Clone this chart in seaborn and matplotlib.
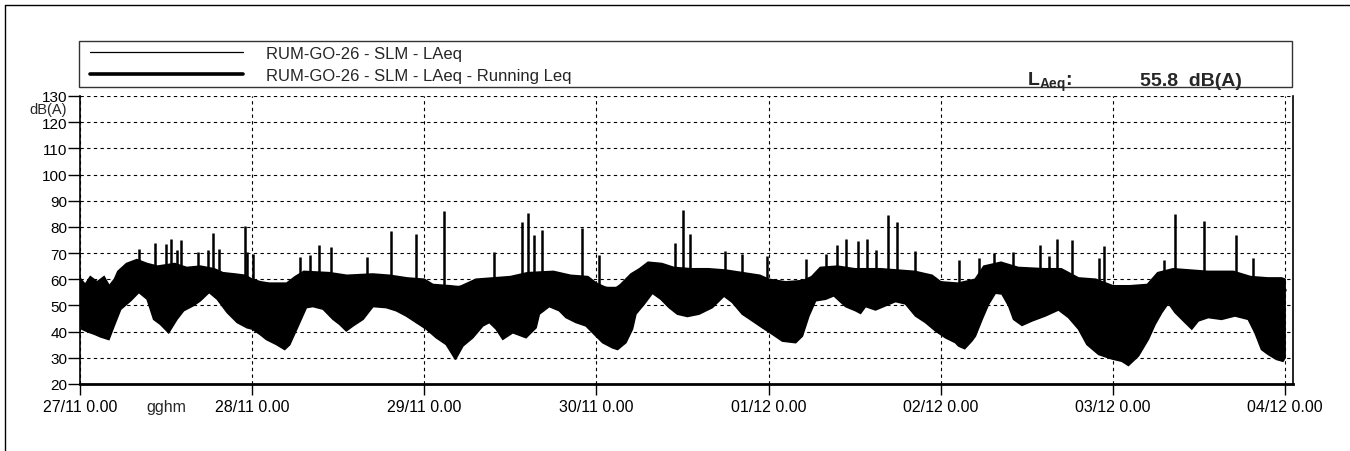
import numpy as np
import matplotlib
matplotlib.use("Agg")
import matplotlib.pyplot as plt
from matplotlib.lines import Line2D
from matplotlib.patches import Rectangle
import seaborn as sns

# ---------------------------------------------------------------- data
# Time axis is in days from 27/11 0.00.
day_ticks = [0, 1, 2, 3, 4, 5, 6, 7]
day_tick_labels = ["27/11 0.00", "28/11 0.00", "29/11 0.00", "30/11 0.00",
                   "01/12 0.00", "02/12 0.00", "03/12 0.00", "04/12 0.00"]
db_ticks = list(range(20, 131, 10))

# LAeq band: upper edge of the dense short-interval levels (day, dB)
laeq_upper_day = [0.0, 0.03, 0.06, 0.10, 0.14, 0.17, 0.20, 0.22, 0.27, 0.33,
                  0.39, 0.45, 0.55, 0.62, 0.70, 0.78, 0.83, 0.90, 0.96, 1.00,
                  1.05, 1.10, 1.20, 1.25, 1.30, 1.45, 1.55, 1.70, 1.80, 1.90,
                  2.00, 2.05, 2.15, 2.20, 2.30, 2.40, 2.50, 2.60, 2.75, 2.85,
                  2.95, 3.00, 3.05, 3.10, 3.14, 3.20, 3.25, 3.30, 3.38, 3.45,
                  3.55, 3.65, 3.75, 3.85, 3.95, 4.00, 4.10, 4.20, 4.25, 4.30,
                  4.40, 4.50, 4.65, 4.75, 4.85, 4.95, 5.00, 5.10, 5.20, 5.25,
                  5.35, 5.45, 5.60, 5.70, 5.80, 5.90, 6.00, 6.10, 6.20, 6.26,
                  6.35, 6.45, 6.55, 6.70, 6.80, 6.90, 6.98, 7.00]
laeq_upper_db = [60.5, 58.0, 61.0, 59.0, 61.0, 57.5, 60.0, 63.0, 66.0, 67.5,
                 66.0, 65.0, 66.0, 64.5, 65.0, 64.0, 62.5, 62.0, 61.5, 60.0,
                 59.0, 58.5, 58.5, 61.0, 63.0, 62.5, 61.5, 62.0, 61.5, 60.5,
                 60.0, 58.0, 57.5, 57.0, 60.0, 60.5, 61.0, 62.5, 63.0, 61.5,
                 61.0, 58.5, 57.0, 56.0, 58.0, 62.0, 64.0, 66.5, 66.0, 64.5,
                 64.0, 64.0, 63.5, 62.5, 61.5, 60.0, 59.0, 59.5, 61.0, 64.5,
                 65.0, 64.0, 64.0, 63.5, 63.0, 61.5, 59.0, 58.5, 60.0, 65.0,
                 66.5, 64.5, 64.0, 64.0, 60.5, 60.0, 57.5, 57.5, 58.0, 62.5,
                 64.0, 63.5, 63.0, 63.0, 61.0, 60.5, 60.5, 60.0]

# LAeq band: lower edge (day, dB)
laeq_lower_day = [0.0, 0.010, 0.043, 0.085, 0.12, 0.168, 0.197, 0.236, 0.294,
                  0.342, 0.39, 0.428, 0.467, 0.515, 0.563, 0.602, 0.66, 0.699,
                  0.75, 0.797, 0.855, 0.913, 0.97, 1.00, 1.045, 1.083, 1.141,
                  1.189, 1.218, 1.266, 1.315, 1.353, 1.412, 1.47, 1.508, 1.547,
                  1.586, 1.644, 1.702, 1.779, 1.837, 1.895, 1.953, 2.011, 2.069,
                  2.127, 2.181, 2.224, 2.282, 2.34, 2.378, 2.417, 2.456, 2.514,
                  2.591, 2.649, 2.668, 2.726, 2.784, 2.823, 2.881, 2.939, 2.987,
                  3.036, 3.094, 3.123, 3.171, 3.209, 3.229, 3.277, 3.325, 3.374,
                  3.422, 3.47, 3.528, 3.596, 3.673, 3.741, 3.789, 3.847, 3.906,
                  3.964, 4.022, 4.08, 4.157, 4.196, 4.234, 4.273, 4.331, 4.379,
                  4.447, 4.505, 4.534, 4.563, 4.621, 4.679, 4.737, 4.795, 4.853,
                  4.911, 4.969, 5.027, 5.085, 5.104, 5.139, 5.181, 5.201, 5.24,
                  5.278, 5.317, 5.355, 5.394, 5.423, 5.472, 5.53, 5.607, 5.684,
                  5.742, 5.8, 5.849, 5.917, 5.994, 6.052, 6.09, 6.148, 6.206,
                  6.245, 6.284, 6.322, 6.361, 6.419, 6.458, 6.496, 6.554, 6.631,
                  6.709, 6.786, 6.825, 6.863, 6.902, 6.95, 6.988, 7.0]
laeq_lower_db = [43.5, 41.0, 40.0, 39.0, 38.0, 37.0, 42.0, 48.5, 51.8,
                 55.0, 52.4, 44.7, 42.8, 39.6, 44.7, 48.0, 50.0, 51.8,
                 55.0, 52.4, 47.3, 43.5, 41.5, 41.0, 39.0, 37.0, 35.1,
                 33.2, 35.0, 42.0, 49.2, 49.6, 48.6, 44.7, 42.8, 40.3,
                 42.2, 44.7, 49.6, 49.2, 48.0, 46.0, 43.5, 41.0, 37.7,
                 35.1, 29.4, 34.5, 37.7, 42.2, 43.5, 41.0, 37.1, 39.6,
                 37.7, 41.5, 46.7, 49.6, 48.0, 45.4, 43.5, 42.2, 39.0,
                 35.8, 33.8, 33.2, 35.8, 41.0, 46.7, 50.5, 54.7, 52.4,
                 49.2, 46.7, 45.8, 46.7, 49.2, 53.6, 51.2, 46.7, 44.1,
                 41.5, 39.0, 36.4, 35.8, 38.3, 46.0, 51.8, 52.4, 53.7,
                 49.6, 48.0, 47.0, 49.6, 48.3, 49.9, 51.5, 50.6, 46.0,
                 43.5, 40.3, 37.7, 35.8, 34.5, 33.5, 36.5, 38.3, 44.7,
                 50.5, 54.7, 54.4, 49.9, 44.7, 42.4, 44.1, 46.0, 48.3,
                 45.4, 41.0, 35.1, 31.3, 29.6, 28.7, 27.1, 30.7, 37.1,
                 42.8, 47.3, 50.9, 47.3, 43.5, 41.0, 44.1, 45.4, 44.7,
                 46.0, 44.7, 39.6, 33.2, 31.3, 29.4, 28.7, 30.0]

# Short events rising above the band (day, peak dB)
event_day = [0.342, 0.433, 0.501, 0.526, 0.565, 0.584, 0.687, 0.743, 0.772,
             0.807, 0.956, 0.971, 1.004, 1.280, 1.334, 1.388, 1.460, 1.669,
             1.808, 1.949, 2.112, 2.407, 2.568, 2.603, 2.639, 2.681, 2.916,
             3.012, 3.455, 3.503, 3.542, 3.747, 3.847, 3.993, 4.219, 4.335,
             4.395, 4.447, 4.521, 4.569, 4.625, 4.695, 4.743, 4.849, 5.104,
             5.220, 5.307, 5.417, 5.574, 5.630, 5.678, 5.762, 5.917, 5.951,
             6.297, 6.361, 6.531, 6.714, 6.815]
event_db = [71.4, 73.8, 73.6, 75.3, 71.0, 74.9, 70.4, 71.0, 77.8,
            71.7, 80.4, 70.4, 69.7, 68.5, 69.1, 73.2, 72.3, 68.5,
            78.3, 77.4, 85.9, 70.4, 81.7, 85.5, 76.8, 79.0, 79.4,
            69.4, 74.0, 86.6, 77.4, 70.7, 69.7, 68.8, 67.8, 69.7,
            73.2, 75.5, 74.5, 75.5, 71.0, 84.5, 82.0, 70.7, 67.2,
            68.0, 70.0, 70.6, 72.9, 69.0, 75.5, 74.9, 68.0, 72.7,
            67.4, 85.0, 82.4, 77.0, 68.0]

# Running Leq (day, dB)
running_day = [0.0, 0.05, 0.1, 0.2, 0.3, 0.4, 0.5, 0.7, 1.0, 1.5, 2.0,
               3.0, 4.0, 5.0, 6.0, 7.0]
running_db = [50.0, 50.5, 51.0, 53.0, 55.0, 56.5, 57.5, 58.0, 57.5, 57.0,
              57.0, 56.5, 56.5, 56.3, 56.0, 55.8]

overall_laeq = 55.8
series_names = ["RUM-GO-26 - SLM - LAeq", "RUM-GO-26 - SLM - LAeq - Running Leq"]

# ---------------------------------------------------------------- style
sns.set_style("white")
plt.rcParams["font.family"] = ["Liberation Sans", "DejaVu Sans"]
plt.rcParams["mathtext.fontset"] = "custom"
plt.rcParams["mathtext.rm"] = "Liberation Sans"
plt.rcParams["mathtext.bf"] = "Liberation Sans:bold"

W, H = 1350, 452
fig = plt.figure(figsize=(W / 100, H / 100), dpi=100)
fig.patch.set_facecolor("white")


def fx(px):
    return px / W


def fy(py):
    return 1 - py / H


ax = fig.add_axes([fx(80), fy(385), fx(1293) - fx(80), fy(97) - fy(385)])

# dense LAeq band
poly_x = np.concatenate([laeq_upper_day, laeq_lower_day[::-1]])
poly_y = np.concatenate([laeq_upper_db, laeq_lower_db[::-1]])
ax.fill(poly_x, poly_y, facecolor="black", edgecolor="black", linewidth=1.2,
        joinstyle="miter", zorder=3)

# event peaks
ax.vlines(event_day, 55, event_db, colors="black", linewidth=1.8, zorder=3)

# running Leq
sns.lineplot(x=running_day, y=running_db, color="black", linewidth=2.4,
             ax=ax, zorder=4)

ax.set_xlim(0, 7.046)
ax.set_ylim(20, 130)
ax.set_xticks(day_ticks)
ax.set_xticklabels(day_tick_labels)
ax.set_yticks(db_ticks)
ax.set_yticklabels([str(v) for v in db_ticks])
ax.set_xlabel("")
ax.set_ylabel("")

ax.grid(True, color="black", linestyle=(0, (3, 3)), linewidth=0.8)
ax.set_axisbelow(True)
for side in ("left", "right"):
    ax.spines[side].set_color("black")
    ax.spines[side].set_linewidth(1.2)
ax.spines["bottom"].set_color("black")
ax.spines["bottom"].set_linewidth(2.0)
ax.spines["top"].set_visible(False)

ax.tick_params(axis="y", direction="out", length=9, width=1.0, pad=0,
               labelsize=11, colors="black", left=True)
ax.tick_params(axis="x", direction="out", length=8, width=1.0, pad=3,
               labelsize=11.5, colors="black", bottom=True)

ax.annotate("gghm", xy=(0.5, 0), xycoords=("data", "axes fraction"),
            xytext=(0, -11), textcoords="offset points", ha="center",
            va="top", fontsize=11.5)
fig.text(fx(67), fy(110.5), "dB(A)", ha="right", va="center", fontsize=10.5)

# legend panel
fig.patches.append(Rectangle((fx(79), fy(88)), fx(1292) - fx(79),
                             fy(42) - fy(88), transform=fig.transFigure,
                             fill=False, edgecolor="#333333", linewidth=1.0))
handles = [Line2D([], [], color="black", linewidth=0.9),
           Line2D([], [], color="black", linewidth=2.6)]
fig.legend(handles, series_names, loc="upper left",
           bbox_to_anchor=(fx(88), fy(45)), frameon=False, fontsize=12,
           handlelength=9.2, handletextpad=1.35, labelspacing=0.45,
           borderpad=0.1, borderaxespad=0)

fig.text(fx(1027), fy(86), r"$\mathbf{L}_{\mathbf{Aeq}}$:", ha="left",
         va="baseline", fontsize=14, fontweight="bold")
fig.text(fx(1140), fy(86), f"{overall_laeq:.1f}  dB(A)", ha="left",
         va="baseline", fontsize=14, fontweight="bold")

# outer page frame
fig.add_artist(Line2D([fx(5), fx(5)], [fy(6), 0], transform=fig.transFigure,
                      color="black", linewidth=1.0))
fig.add_artist(Line2D([fx(5), 1], [fy(6), fy(6)], transform=fig.transFigure,
                      color="black", linewidth=1.0))

fig.savefig("out.png", dpi=100, facecolor="white")
